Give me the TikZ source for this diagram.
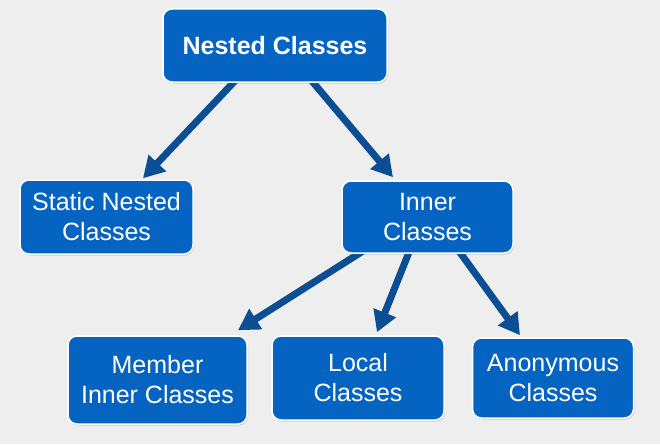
\documentclass[tikz,border=0pt]{standalone}
\usepackage{fontspec}
\setmainfont{Liberation Sans}
\usetikzlibrary{arrows.meta,backgrounds,shadows}
\definecolor{bg}{HTML}{EEEEEE}
\definecolor{boxblue}{HTML}{0563C1}
\definecolor{arrblue}{HTML}{0C4E93}
\begin{document}
\begin{tikzpicture}[x=1pt,y=-1pt,
  box/.style={rectangle, rounded corners=9pt, fill=boxblue, draw=white,
    line width=1.5pt, text=white, align=center, inner sep=0pt,
    font=\fontsize{25}{30}\selectfont,
    drop shadow={shadow xshift=1pt, shadow yshift=-1.5pt, opacity=0.25, fill=black!60}},
  arr/.style={draw=arrblue, line width=7pt, -{Triangle[length=21pt,width=23pt]}}]

\begin{scope}[on background layer]
  \fill[bg] (0,0) rectangle (660,444);
\end{scope}
\useasboundingbox (0,0) rectangle (660,444);

\node[box, minimum width=224pt, minimum height=73pt, font=\fontsize{25}{30}\selectfont\bfseries]
  (top) at (275,45.5) {Nested Classes};
\node[box, minimum width=173pt, minimum height=74pt] (static) at (106.5,217) {Static Nested\\Classes};
\node[box, minimum width=171pt, minimum height=72pt] (inner) at (427.5,217) {Inner\\Classes};
\node[box, minimum width=179pt, minimum height=88pt] (member) at (157.5,380) {Member\\Inner Classes};
\node[box, minimum width=172pt, minimum height=84pt] (local) at (358,378) {Local\\Classes};
\node[box, minimum width=161pt, minimum height=80pt] (anon) at (553,378) {Anonymous\\Classes};

\begin{scope}[on background layer]
  \draw[arr] ([xshift=-38pt,yshift=4pt]top.south) -- ([xshift=36.5pt,yshift=1pt]static.north);
  \draw[arr] ([xshift=35pt,yshift=4pt]top.south) -- ([xshift=-34.5pt,yshift=3pt]inner.north);
  \draw[arr] ([xshift=-62.5pt,yshift=4pt]inner.south) -- ([xshift=80.5pt,yshift=5pt]member.north);
  \draw[arr] ([xshift=-17.5pt,yshift=4pt]inner.south) -- ([xshift=19pt,yshift=3pt]local.north);
  \draw[arr] ([xshift=30.5pt,yshift=4pt]inner.south) -- ([xshift=-33pt,yshift=2pt]anon.north);
\end{scope}
\end{tikzpicture}
\end{document}
